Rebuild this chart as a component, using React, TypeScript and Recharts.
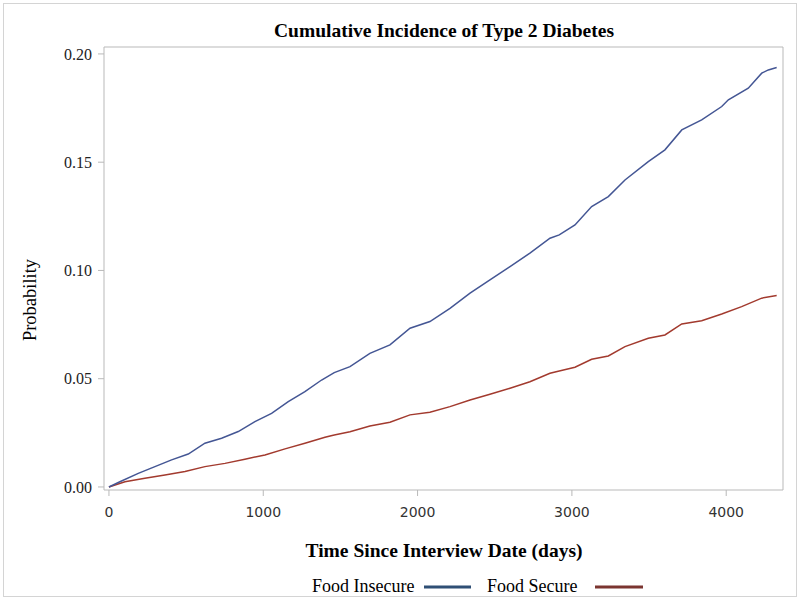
import React from "react";
import { LineChart, Line, XAxis, YAxis, ReferenceArea } from "recharts";

// Food Insecure (blue) cumulative incidence
const insecureDays = [0, 71, 190, 298, 406, 514, 622, 730, 838, 946, 1054, 1162, 1270, 1378, 1460, 1562, 1691, 1821, 1951, 2080, 2210, 2340, 2469, 2599, 2728, 2858, 2918, 3020, 3128, 3236, 3344, 3495, 3603, 3712, 3841, 3971, 4014, 4143, 4230, 4273, 4327];
const insecureProb = [0, 0.0024, 0.0063, 0.0094, 0.0125, 0.0152, 0.0202, 0.0225, 0.0256, 0.0302, 0.034, 0.0394, 0.044, 0.0494, 0.0528, 0.0556, 0.0617, 0.0656, 0.0733, 0.0764, 0.0825, 0.0895, 0.0956, 0.1018, 0.108, 0.1149, 0.1164, 0.121, 0.1295, 0.1341, 0.1418, 0.1503, 0.1557, 0.1649, 0.1695, 0.1757, 0.1788, 0.1842, 0.1911, 0.1926, 0.1937];

// Food Secure (red) cumulative incidence
const secureDays = [0, 104, 233, 363, 493, 622, 752, 881, 1011, 1141, 1270, 1400, 1460, 1562, 1691, 1821, 1951, 2080, 2210, 2340, 2469, 2599, 2728, 2858, 2918, 3020, 3128, 3236, 3344, 3495, 3603, 3712, 3841, 3971, 4100, 4230, 4327];
const secureProb = [0, 0.0024, 0.004, 0.0055, 0.0071, 0.0094, 0.0109, 0.0128, 0.0148, 0.0176, 0.0202, 0.023, 0.024, 0.0255, 0.0282, 0.0299, 0.0333, 0.0345, 0.0371, 0.0402, 0.0428, 0.0456, 0.0486, 0.0525, 0.0536, 0.0553, 0.059, 0.0605, 0.0648, 0.0687, 0.0702, 0.0753, 0.0768, 0.0799, 0.0833, 0.0872, 0.0884];

const xTicks = [0, 1000, 2000, 3000, 4000];
const yTicks = [0, 0.05, 0.1, 0.15, 0.2];
const xDomain: [number, number] = [-32, 4368];
const yDomain: [number, number] = [-0.0014, 0.2032];

const title = "Cumulative Incidence of Type 2 Diabetes";
const xLabel = "Time Since Interview Date (days)";
const yLabel = "Probability";
const seriesNames = ["Food Insecure", "Food Secure"];

const insecureData = insecureDays.map((t, i) => ({ t, p: insecureProb[i] }));
const secureData = secureDays.map((t, i) => ({ t, p: secureProb[i] }));

const FRAME = "#b9b9b9";
const SERIF = "'Liberation Serif', 'Times New Roman', serif";

export default function App() {
  return (
    <div style={{ position: "absolute", left: 0, top: 0, width: 800, height: 601, background: "#fff" }}>
      <div style={{ position: "absolute", left: 3, top: 3, width: 792, height: 592, border: "1px solid #d4d4d4" }} />
      <LineChart
        width={800}
        height={601}
        margin={{ top: 47, right: 17, bottom: 81, left: 44 }}
        style={{ position: "absolute", left: 0, top: 0 }}
      >
        <XAxis
          type="number"
          dataKey="t"
          domain={xDomain}
          ticks={xTicks}
          allowDataOverflow
          height={30}
          axisLine={false}
          tickLine={{ stroke: FRAME }}
          tickSize={6}
          tickMargin={11}
          tick={{ fontFamily: "'DejaVu Sans', sans-serif", fontSize: 14, fill: "#333" }}
        />
        <YAxis
          type="number"
          domain={yDomain}
          ticks={yTicks}
          allowDataOverflow
          width={60}
          axisLine={false}
          tickLine={{ stroke: FRAME }}
          tickSize={6}
          tickMargin={6}
          tickFormatter={(v: number) => v.toFixed(2)}
          tick={{ fontFamily: SERIF, fontSize: 16, fill: "#222" }}
        />
        <ReferenceArea
          x1={xDomain[0]}
          x2={xDomain[1]}
          y1={yDomain[0]}
          y2={yDomain[1]}
          fill="none"
          fillOpacity={0}
          stroke={FRAME}
          strokeWidth={1}
          ifOverflow="visible"
        />
        <Line
          data={secureData}
          dataKey="p"
          type="linear"
          stroke="#A23A2E"
          strokeWidth={1.5}
          dot={false}
          isAnimationActive={false}
        />
        <Line
          data={insecureData}
          dataKey="p"
          type="linear"
          stroke="#445694"
          strokeWidth={1.5}
          dot={false}
          isAnimationActive={false}
        />
      </LineChart>
      <svg width={800} height={601} style={{ position: "absolute", left: 0, top: 0, pointerEvents: "none" }}>
        <text x={444} y={37} textAnchor="middle" fontFamily={SERIF} fontWeight="bold" fontSize={19.5} fill="#000">
          {title}
        </text>
        <text x={444} y={556.5} textAnchor="middle" fontFamily={SERIF} fontWeight="bold" fontSize={19.5} fill="#000">
          {xLabel}
        </text>
        <text x={36} y={300} textAnchor="middle" fontFamily={SERIF} fontSize={18.5} fill="#000" transform="rotate(-90 36 300)">
          {yLabel}
        </text>
        <text x={312} y={591.5} fontFamily={SERIF} fontSize={18} fill="#000">
          {seriesNames[0]}
        </text>
        <line x1={424} x2={471} y1={587} y2={587} stroke="#2f4f75" strokeWidth={3} />
        <text x={487} y={591.5} fontFamily={SERIF} fontSize={18} fill="#000">
          {seriesNames[1]}
        </text>
        <line x1={595} x2={643} y1={587} y2={587} stroke="#7b3530" strokeWidth={3} />
      </svg>
    </div>
  );
}
